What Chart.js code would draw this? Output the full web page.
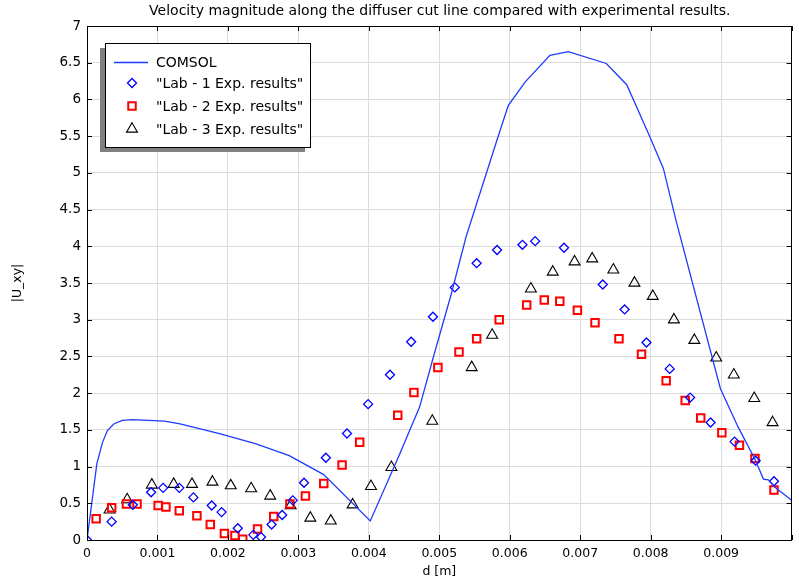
<!DOCTYPE html>
<html>
<head>
<meta charset="utf-8">
<script src="https://cdn.jsdelivr.net/npm/chart.js@4"></script>
<style>
  html, body { margin: 0; padding: 0; background: #fff; }
  #wrap { width: 799px; height: 588px; }
</style>
</head>
<body>
<div id="wrap"><canvas id="chart" width="799" height="588"></canvas></div>
<script>
// COMSOL simulation curve
const comsolD = [0, 0.00014, 0.00022, 0.00029, 0.00038, 0.0005, 0.00064, 0.0011, 0.00132, 0.00188, 0.0024, 0.00287, 0.00336, 0.00402,
  0.00442, 0.00472, 0.00493, 0.00517, 0.00538, 0.00582, 0.00598, 0.00622, 0.00657, 0.00683, 0.00737, 0.00766, 0.00798, 0.00818,
  0.00836, 0.00899, 0.00924, 0.00948, 0.0096, 0.00967, 0.00976, 0.01];
const comsolU = [0, 1.04, 1.33, 1.49, 1.58, 1.63, 1.64, 1.62, 1.58, 1.45, 1.31, 1.15, 0.89, 0.26,
  1.13, 1.81, 2.54, 3.35, 4.13, 5.45, 5.92, 6.24, 6.6, 6.65, 6.49, 6.2, 5.51, 5.06,
  4.35, 2.06, 1.54, 1.1, 0.83, 0.82, 0.72, 0.54];

// Lab 1
const lab1D = [0, 0.00035, 0.00065, 0.00091, 0.00108, 0.00131, 0.00151, 0.00177, 0.00191, 0.00214, 0.00236, 0.00247, 0.00262,
  0.00277, 0.00292, 0.00308, 0.00339, 0.00369, 0.00399, 0.0043, 0.0046, 0.00491, 0.00522, 0.00553, 0.00582, 0.00618, 0.00636,
  0.00677, 0.00732, 0.00763, 0.00794, 0.00827, 0.00856, 0.00885, 0.00919, 0.00949, 0.00975];
const lab1U = [0, 0.25, 0.48, 0.65, 0.71, 0.71, 0.58, 0.47, 0.38, 0.16, 0.07, 0.04, 0.21,
  0.34, 0.54, 0.78, 1.12, 1.45, 1.85, 2.25, 2.7, 3.04, 3.44, 3.77, 3.95, 4.02, 4.07,
  3.98, 3.48, 3.14, 2.69, 2.33, 1.94, 1.6, 1.34, 1.08, 0.8];

// Lab 2
const lab2D = [0.00013, 0.00035, 0.00056, 0.00071, 0.00101, 0.00112, 0.00131, 0.00156, 0.00175, 0.00195, 0.0021, 0.00221, 0.00242,
  0.00265, 0.00288, 0.0031, 0.00336, 0.00362, 0.00387, 0.00441, 0.00464, 0.00498, 0.00528, 0.00553, 0.00585, 0.00624, 0.00649,
  0.00671, 0.00696, 0.00721, 0.00755, 0.00787, 0.00822, 0.00849, 0.00871, 0.00901, 0.00926, 0.00948, 0.00975];
const lab2U = [0.29, 0.44, 0.49, 0.49, 0.47, 0.45, 0.4, 0.33, 0.21, 0.09, 0.06, 0.01, 0.15,
  0.32, 0.49, 0.6, 0.77, 1.02, 1.33, 1.7, 2.01, 2.35, 2.56, 2.74, 3.0, 3.2, 3.27,
  3.25, 3.13, 2.96, 2.74, 2.53, 2.17, 1.9, 1.66, 1.46, 1.29, 1.11, 0.68];

// Lab 3
const lab3D = [0.00032, 0.00057, 0.00092, 0.00123, 0.00149, 0.00178, 0.00204, 0.00233, 0.0026, 0.00289, 0.00317, 0.00346, 0.00377,
  0.00403, 0.00432, 0.0049, 0.00546, 0.00575, 0.0063, 0.00661, 0.00692, 0.00717, 0.00747, 0.00777, 0.00803, 0.00833, 0.00862,
  0.00893, 0.00918, 0.00947, 0.00973];
const lab3U = [0.41, 0.55, 0.75, 0.76, 0.76, 0.79, 0.74, 0.7, 0.6, 0.47, 0.3, 0.26, 0.48,
  0.73, 0.99, 1.62, 2.35, 2.79, 3.42, 3.65, 3.79, 3.83, 3.68, 3.5, 3.32, 3.0, 2.72,
  2.48, 2.25, 1.93, 1.6];

const seriesNames = ["COMSOL", "\"Lab - 1 Exp. results\"", "\"Lab - 2 Exp. results\"", "\"Lab - 3 Exp. results\""];
const titleText = "Velocity magnitude along the diffuser cut line compared with experimental results.";

const FONT = "'DejaVu Sans', sans-serif";

function pts(xs, ys) {
  return xs.map((x, i) => ({ x: x, y: ys[i] }));
}

// frame, inward ticks on all four sides, title
const framePlugin = {
  id: "frame",
  afterDraw(chart) {
    const ctx = chart.ctx;
    const a = chart.chartArea;
    const sx = chart.scales.x, sy = chart.scales.y;
    ctx.save();
    ctx.strokeStyle = "#000";
    ctx.lineWidth = 1;
    ctx.strokeRect(Math.round(a.left) + 0.5, Math.round(a.top) + 0.5, Math.round(a.right - a.left) - 1, Math.round(a.bottom - a.top));
    ctx.beginPath();
    const len = 5;
    sx.ticks.forEach(t => {
      const px = Math.round(sx.getPixelForValue(t.value)) + 0.5;
      ctx.moveTo(px, a.bottom); ctx.lineTo(px, a.bottom - len);
      ctx.moveTo(px, a.top); ctx.lineTo(px, a.top + len);
    });
    sy.ticks.forEach(t => {
      const py = Math.round(sy.getPixelForValue(t.value)) + 0.5;
      ctx.moveTo(a.left, py); ctx.lineTo(a.left + len, py);
      ctx.moveTo(a.right, py); ctx.lineTo(a.right - len, py);
    });
    ctx.stroke();
    ctx.fillStyle = "#000";
    ctx.font = "14px " + FONT;
    ctx.textAlign = "center";
    ctx.textBaseline = "middle";
    ctx.fillText(titleText, (a.left + a.right) / 2 + 0.5, 11);
    ctx.restore();
  }
};

// boxed legend with shadow, like the COMSOL plot
const legendPlugin = {
  id: "boxLegend",
  afterDraw(chart) {
    const ctx = chart.ctx;
    const bx = 105, by = 43, bw = 205, bh = 104;
    ctx.save();
    ctx.fillStyle = "#808080";
    ctx.fillRect(bx - 5, by + 5, bw, bh);
    ctx.fillStyle = "#fff";
    ctx.fillRect(bx, by, bw, bh);
    ctx.strokeStyle = "#000";
    ctx.lineWidth = 1;
    ctx.strokeRect(bx + 0.5, by + 0.5, bw, bh);
    const rows = [62, 83, 106, 129];
    ctx.textBaseline = "middle";
    ctx.textAlign = "left";
    chart.data.datasets.forEach((ds, i) => {
      const y = rows[i];
      ctx.strokeStyle = ds.borderColor;
      ctx.lineWidth = ds.pointBorderWidth || 1;
      if (i === 0) {
        ctx.lineWidth = 1.3;
        ctx.beginPath();
        ctx.moveTo(114, y + 0.5);
        ctx.lineTo(148, y + 0.5);
        ctx.stroke();
      } else {
        ctx.fillStyle = "rgba(0,0,0,0)";
        Chart.helpers.drawPoint(ctx, {
          pointStyle: ds.pointStyle,
          radius: ds.pointRadius,
          rotation: 0,
          borderWidth: ds.pointBorderWidth
        }, 132, y);
      }
      ctx.fillStyle = "#000";
      ctx.font = "14px " + FONT;
      ctx.fillText(seriesNames[i], 156, y + 1);
    });
    ctx.restore();
  }
};

new Chart(document.getElementById("chart"), {
  type: "scatter",
  data: {
    datasets: [
      {
        label: seriesNames[0],
        data: pts(comsolD, comsolU),
        showLine: true,
        borderColor: "rgb(30,60,255)",
        borderWidth: 1.3,
        pointRadius: 0,
        fill: false,
        tension: 0
      },
      {
        label: seriesNames[1],
        data: pts(lab1D, lab1U),
        pointStyle: "rectRot",
        pointRadius: 4.5,
        pointBorderWidth: 1.3,
        borderColor: "rgb(0,0,255)",
        backgroundColor: "rgba(0,0,0,0)"
      },
      {
        label: seriesNames[2],
        data: pts(lab2D, lab2U),
        pointStyle: "rect",
        pointRadius: 5.3,
        pointBorderWidth: 2,
        borderColor: "rgb(255,0,0)",
        backgroundColor: "rgba(0,0,0,0)"
      },
      {
        label: seriesNames[3],
        data: pts(lab3D, lab3U),
        pointStyle: "triangle",
        pointRadius: 6.3,
        pointBorderWidth: 1.1,
        borderColor: "rgb(0,0,0)",
        backgroundColor: "rgba(0,0,0,0)"
      }
    ]
  },
  options: {
    responsive: false,
    animation: false,
    layout: { padding: { top: 26, right: 2, left: 0, bottom: 0 } },
    plugins: {
      legend: { display: false },
      tooltip: { enabled: false },
      title: { display: false }
    },
    scales: {
      x: {
        type: "linear",
        min: 0,
        max: 0.01,
        afterFit(scale) { scale.height = 48; },
        border: { display: false },
        grid: { color: "#dcdcdc", drawTicks: false, lineWidth: 1 },
        ticks: {
          stepSize: 0.001,
          padding: 6,
          color: "#000",
          font: { family: FONT, size: 12.5 },
          maxRotation: 0,
          autoSkip: false,
          callback: v => (v > 0.0095 ? "" : String(Number(v.toFixed(3))))
        },
        title: {
          display: true,
          text: "d [m]",
          color: "#000",
          font: { family: FONT, size: 12.5 },
          padding: { top: 2, bottom: 9 }
        }
      },
      y: {
        type: "linear",
        min: 0,
        max: 7,
        afterFit(scale) { scale.width = 87; },
        border: { display: false },
        grid: { color: "#dcdcdc", drawTicks: false, lineWidth: 1 },
        ticks: {
          stepSize: 0.5,
          padding: 6,
          color: "#000",
          font: { family: FONT, size: 13.5 },
          callback: v => String(Number(v.toFixed(1)))
        },
        title: {
          display: true,
          text: "|U_xy|",
          color: "#000",
          font: { family: FONT, size: 12.5 },
          padding: { top: 10, bottom: 0 }
        }
      }
    }
  },
  plugins: [framePlugin, legendPlugin]
});
</script>
</body>
</html>
